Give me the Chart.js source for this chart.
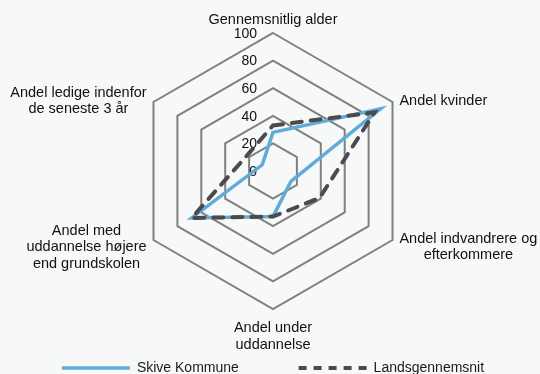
<!DOCTYPE html>
<html>
<head>
<meta charset="utf-8">
<script src="https://cdn.jsdelivr.net/npm/chart.js@4.4.0/dist/chart.umd.min.js"></script>
<style>
  html, body { margin: 0; padding: 0; background: #f7f9f9; }
  #wrap { width: 540px; height: 374px; }
</style>
</head>
<body>
<div id="wrap"><canvas id="radarChart"></canvas></div>
<script>
const categories = [
  'Gennemsnitlig alder',
  'Andel kvinder',
  ['Andel indvandrere og', 'efterkommere'],
  ['Andel under', 'uddannelse'],
  ['Andel med', 'uddannelse højere', 'end grundskolen'],
  ['Andel ledige indenfor', 'de seneste 3 år']
];
const skiveValues = [28, 90, 15, 33, 68, 9];
const nationalValues = [33, 85, 39, 33, 68, 22];
const tickValues = [0, 20, 40, 60, 80, 100];

const FONT = '"Liberation Sans", Arial, sans-serif';
Chart.defaults.font.family = FONT;
Chart.defaults.color = '#1a1a1a';

// tick labels sit left of the axis and point labels are centred blocks,
// which the built-in radial scale can't do, so draw them here
const radarText = {
  id: 'radarText',
  beforeDatasetsDraw(chart) {
    const scale = chart.scales.r;
    const ctx = chart.ctx;
    ctx.save();
    ctx.fillStyle = '#111';
    ctx.font = '14px ' + FONT;
    ctx.textAlign = 'right';
    ctx.textBaseline = 'middle';
    scale.ticks.forEach(t => {
      const y = scale.yCenter - scale.getDistanceFromCenterForValue(t.value);
      ctx.fillText(String(t.value), scale.xCenter - 16, y + 1);
    });

    ctx.font = '14.5px ' + FONT;
    ctx.textAlign = 'center';
    const lineH = 16.5;
    categories.forEach((label, i) => {
      const lines = Array.isArray(label) ? label : [label];
      const pos = scale.getPointPosition(i, scale.drawingArea + 8);
      const blockW = Math.max(...lines.map(l => ctx.measureText(l).width));
      const blockH = lines.length * lineH;
      const dx = pos.x - scale.xCenter;
      let cx, top;
      if (Math.abs(dx) < 1) {
        cx = pos.x;
        top = pos.y < scale.yCenter ? pos.y - blockH : pos.y;
      } else {
        cx = dx > 0 ? pos.x + blockW / 2 : pos.x - blockW / 2;
        top = pos.y - blockH / 2;
      }
      lines.forEach((l, k) => ctx.fillText(l, cx, top + lineH * (k + 0.5) + 3));
    });
    ctx.restore();
  }
};

new Chart(document.getElementById('radarChart'), {
  type: 'radar',
  data: {
    labels: categories,
    datasets: [
      {
        label: 'Skive Kommune',
        data: skiveValues,
        borderColor: '#60abd8',
        backgroundColor: '#60abd8',
        borderWidth: 3.5,
        borderCapStyle: 'round',
        pointRadius: 0,
        fill: false,
        order: 1
      },
      {
        label: 'Landsgennemsnit',
        data: nationalValues,
        borderColor: '#4b4b4f',
        backgroundColor: '#4b4b4f',
        borderWidth: 4,
        borderDash: [10, 9],
        borderCapStyle: 'round',
        pointRadius: 0,
        fill: false,
        order: 0
      }
    ]
  },
  options: {
    responsive: true,
    maintainAspectRatio: false,
    animation: false,
    layout: { padding: { top: 33, bottom: -11, left: 6, right: 0 } },
    plugins: {
      tooltip: { enabled: false },
      legend: {
        position: 'bottom',
        labels: {
          usePointStyle: true,
          pointStyle: 'line',
          pointStyleWidth: 68,
          padding: 52,
          color: '#1a1a1a',
          font: { size: 14 },
          sort: (a, b) => a.datasetIndex - b.datasetIndex,
          generateLabels(chart) {
            const items = Chart.defaults.plugins.legend.labels.generateLabels(chart);
            items.forEach(item => {
              item.pointStyle = 'line';
              if (item.datasetIndex === 0) item.text += '  ';
              if (item.datasetIndex === 1) item.lineDash = [8, 7];
            });
            return items;
          }
        }
      }
    },
    scales: {
      r: {
        min: 0,
        max: 100,
        beginAtZero: true,
        afterBuildTicks: scale => {
          scale.ticks = tickValues.map(v => ({ value: v }));
        },
        ticks: { display: false },
        pointLabels: { display: false },
        angleLines: { display: false },
        grid: { color: '#808080', lineWidth: 2 }
      }
    }
  },
  plugins: [radarText]
});
</script>
</body>
</html>
